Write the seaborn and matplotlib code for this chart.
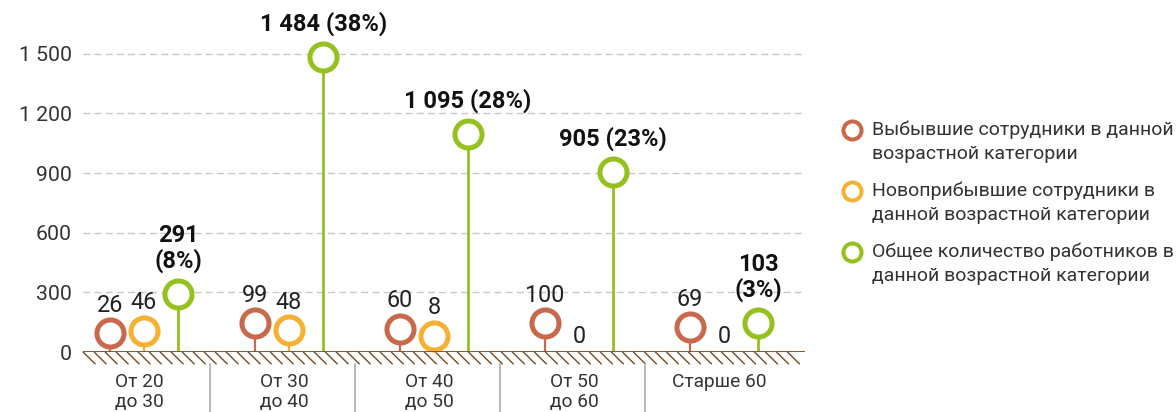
import numpy as np
import pandas as pd
import matplotlib.pyplot as plt
from matplotlib.lines import Line2D
import seaborn as sns

# Data
categories = ['От 20\nдо 30', 'От 30\nдо 40', 'От 40\nдо 50', 'От 50\nдо 60', 'Старше 60']
left_staff = [26, 99, 60, 100, 69]
new_staff = [46, 48, 8, 0, 0]
total_staff = [291, 1484, 1095, 905, 103]
y_ticks = [0, 300, 600, 900, 1200, 1500]
total_wrap = [True, False, False, False, True]
legend_labels = [
    ['Выбывшие сотрудники в данной', 'возрастной категории'],
    ['Новоприбывшие сотрудники в', 'данной возрастной категории'],
    ['Общее количество работников в', 'данной возрастной категории'],
]

series = ['left', 'new', 'total']
colors = ['#c8694b', '#f6b133', '#95c11f']
offsets = [-0.235, 0.0, 0.235]


def fmt(v):
    return f'{v:,}'.replace(',', ' ')


def lift(v):
    # small values are lifted so the rings sit on the ground instead of sinking into it
    return v if v >= 200 else 75 + 0.7 * v


rows = []
for name, vals, dx in zip(series, [left_staff, new_staff, total_staff], offsets):
    for i, v in enumerate(vals):
        rows.append(dict(series=name, group=i, x=i + dx, value=v, y=lift(v)))
df = pd.DataFrame(rows)

sns.set_style('white')
plt.rcParams['font.family'] = ['Roboto', 'DejaVu Sans']

fig = plt.figure(figsize=(11.76, 4.12), dpi=100)
ax = fig.add_axes([0.0706, 0.1456, 0.614, 0.8204])
ax.set_xlim(-0.4207, 4.559)
ax.set_ylim(0, 1700)

# Grid lines
for t in y_ticks[1:]:
    ax.axhline(t, color='#c9c9c9', lw=1, ls=(0, (5, 3)), zorder=0)

# Lollipops
for name, color in zip(series, colors):
    d = df[(df.series == name) & (df.value > 0)]
    ax.vlines(d.x, 0, d.y, color=color, lw=2.0 if name == 'total' else 1.6, zorder=2)
    sns.scatterplot(data=d, x='x', y='y', ax=ax, s=380, color=color,
                    facecolor='white', edgecolor=color, linewidth=3.6,
                    zorder=3, legend=False)

# Value labels
grand = sum(total_staff)
for _, r in df.iterrows():
    if r.series == 'total':
        pct = round(r.value / grand * 100)
        sep = '\n' if total_wrap[r.group] else ' '
        ax.annotate(f'{fmt(r.value)}{sep}({pct}%)', (r.x, r.y), xytext=(0, 15),
                    textcoords='offset points', ha='center', va='bottom',
                    fontsize=17, fontweight='bold', color='#111111',
                    linespacing=1.1, annotation_clip=False)
    elif r.value == 0:
        ax.text(r.x, 80, '0', ha='center', va='center', fontsize=16.8,
                color='#222222')
    else:
        ax.annotate(fmt(r.value), (r.x, r.y), xytext=(0, 12),
                    textcoords='offset points', ha='center', va='bottom',
                    fontsize=16.8, color='#222222')

# Ground line with hatching
ground = '#7a4a1f'
ax.axhline(0, color=ground, lw=2, zorder=4)
for hx in np.arange(-0.42, 4.48, 0.0759):
    ax.plot([hx, hx + 0.083], [0, -60], color=ground, lw=1, clip_on=False)

# Category separators and labels
for b in np.arange(4) + 0.455:
    ax.plot([b, b], [-62, -330], color='#b8b8b8', lw=1.4, clip_on=False)
for i, cat in enumerate(categories):
    ax.text(i - 0.03, -108, cat, ha='center', va='top', fontsize=13.8,
            color='#333333', linespacing=1.1, clip_on=False)

ax.set_yticks(y_ticks, [fmt(t) for t in y_ticks])
ax.set_xticks([])
ax.set_xlabel('')
ax.set_ylabel('')
ax.tick_params(axis='y', length=0, pad=8, labelsize=15.3, labelcolor='#333333')
sns.despine(ax=ax, left=True, bottom=True)

# Legend drawn by hand so the ring lines up with the first text line
for k, (lab, color) in enumerate(zip(legend_labels, colors)):
    yc = 1 - (130 + 61 * k) / 412
    fig.add_artist(Line2D([852 / 1176], [yc], transform=fig.transFigure, marker='o',
                          ms=13, mfc='white', mec=color, mew=2.9))
    for j, line in enumerate(lab):
        fig.text(872 / 1176, yc - j * 24 / 412, line, ha='left', va='center',
                 fontsize=14, color='#333333')

fig.savefig('out.png', dpi=100)
